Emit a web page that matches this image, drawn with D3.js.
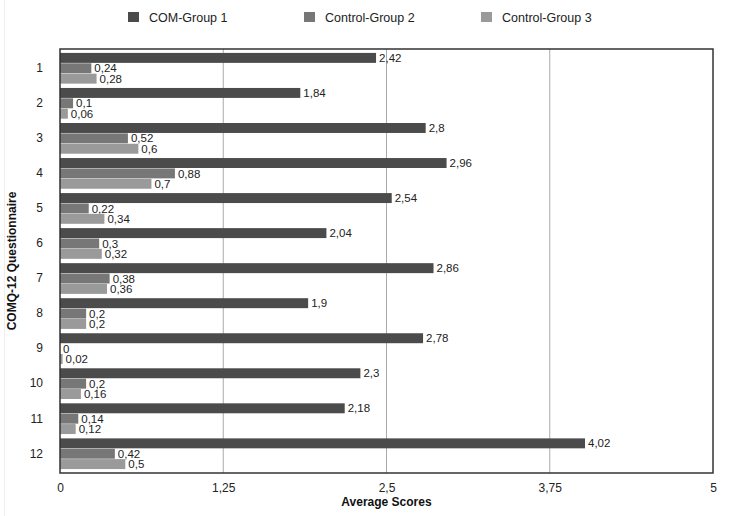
<!DOCTYPE html>
<html><head><meta charset="utf-8">
<script src="https://cdn.jsdelivr.net/npm/d3@7"></script>
<style>body{margin:0;background:#fff;}svg{display:block;font-family:"Liberation Sans",Arial,Helvetica,sans-serif;}</style>
</head><body>
<svg id="c" width="731" height="516"></svg>
<script>
const categories = ["1","2","3","4","5","6","7","8","9","10","11","12"];
const seriesNames = ["COM-Group 1","Control-Group 2","Control-Group 3"];
const group1 = [2.42,1.84,2.8,2.96,2.54,2.04,2.86,1.9,2.78,2.3,2.18,4.02];
const group2 = [0.24,0.1,0.52,0.88,0.22,0.3,0.38,0.2,0,0.2,0.14,0.42];
const group3 = [0.28,0.06,0.6,0.7,0.34,0.32,0.36,0.2,0.02,0.16,0.12,0.5];
const xTicks = [0,1.25,2.5,3.75,5];
const colors = ["#4b4b4b","#777777","#9a9a9a"];

const series = [group1, group2, group3];
const svg = d3.select("#c");
const m = {l:60, r:18, t:49, b:43};
const W = 731, H = 516;
const x = d3.scaleLinear().domain([0,5]).range([m.l, W - m.r]);
const y = d3.scaleBand().domain(categories).range([m.t, H - m.b]).paddingInner(0.1).paddingOuter(0.1);
const ys = d3.scaleBand().domain([0,1,2]).range([0, y.bandwidth()]).padding(0.04);
const fmt = v => String(v).replace(".", ",");

// faint frame
svg.append("line").attr("x1",4.5).attr("x2",4.5).attr("y1",0).attr("y2",H).attr("stroke","#eee");

// gridlines
svg.append("g").selectAll("line").data(xTicks.slice(1,-1)).join("line")
  .attr("x1",d=>x(d)).attr("x2",d=>x(d)).attr("y1",m.t).attr("y2",H-m.b)
  .attr("stroke","#aaa").attr("stroke-width",1);

// bars
const g = svg.append("g");
categories.forEach((c,i)=>{
  series.forEach((s,j)=>{
    const yy = y(c) + ys(j);
    g.append("rect").attr("x",x(0)).attr("y",yy).attr("width",x(s[i])-x(0)).attr("height",ys.bandwidth()).attr("fill",colors[j]);
    g.append("text").attr("x",x(s[i])+3).attr("y",yy+ys.bandwidth()/2).attr("dy","0.36em")
      .attr("font-size",11.5).attr("fill","#222").text(fmt(s[i]));
  });
});

// border
svg.append("rect").attr("x",m.l).attr("y",m.t).attr("width",W-m.r-m.l).attr("height",H-m.b-m.t)
  .attr("fill","none").attr("stroke","#333").attr("stroke-width",1.5);

// x axis
const xa = svg.append("g").attr("transform",`translate(0,${H-m.b})`)
  .call(d3.axisBottom(x).tickValues(xTicks).tickSize(0).tickPadding(10).tickFormat(fmt));
xa.select(".domain").remove();
xa.selectAll("text").attr("font-size",12).attr("fill","#222").attr("font-family","Liberation Sans, Arial, sans-serif");

// y axis
const ya = svg.append("g").attr("transform",`translate(${m.l},0)`)
  .call(d3.axisLeft(y).tickSize(0).tickPadding(17));
ya.select(".domain").remove();
ya.selectAll("text").attr("font-size",12).attr("fill","#222").attr("font-family","Liberation Sans, Arial, sans-serif");

// titles
svg.append("text").attr("x",(m.l+W-m.r)/2).attr("y",506).attr("text-anchor","middle")
  .attr("font-size",12).attr("font-weight","bold").attr("fill","#111").text("Average Scores");
svg.append("text").attr("transform",`translate(16,${(m.t+H-m.b)/2}) rotate(-90)`).attr("text-anchor","middle")
  .attr("font-size",12).attr("font-weight","bold").attr("fill","#111").text("COMQ-12 Questionnaire");

// legend
const lx = [128, 304, 481];
seriesNames.forEach((n,j)=>{
  svg.append("rect").attr("x",lx[j]).attr("y",12).attr("width",11).attr("height",10).attr("fill",colors[j]);
  svg.append("text").attr("x",lx[j]+21).attr("y",17).attr("dy","0.36em").attr("font-size",12.5).attr("fill","#222").text(n);
});
</script>
</body></html>
